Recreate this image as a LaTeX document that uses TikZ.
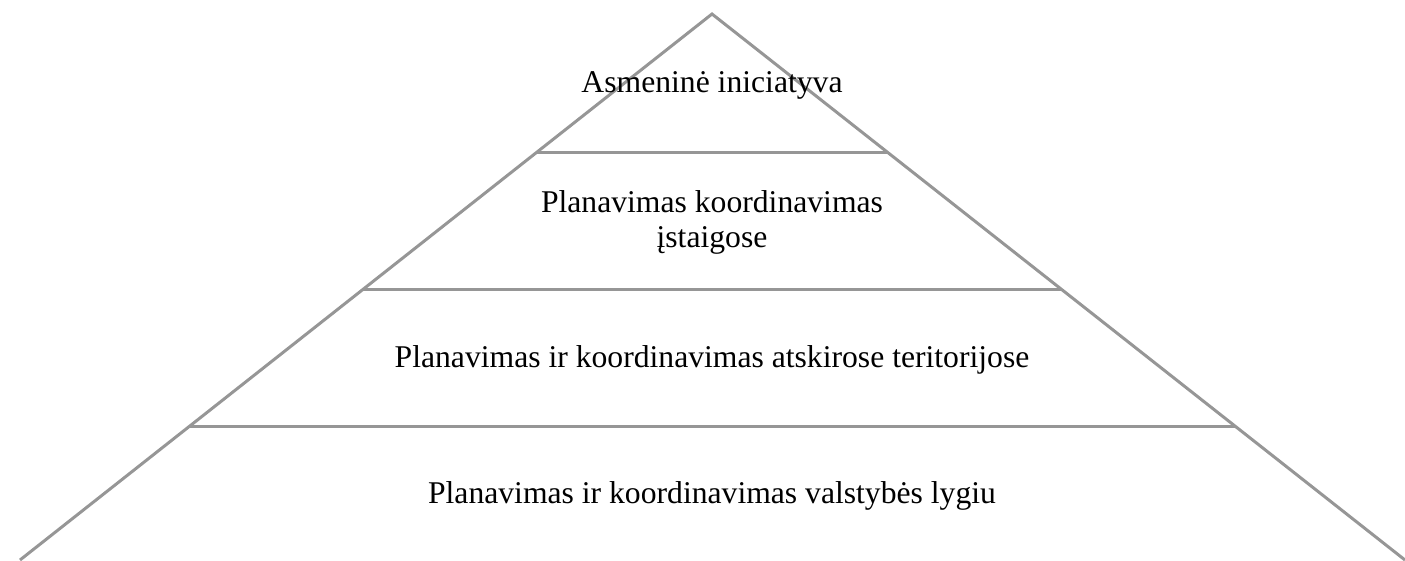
\documentclass[tikz,border=0pt]{standalone}
\usepackage{fontspec}
\setmainfont{Liberation Serif}
\usetikzlibrary{calc}
\definecolor{pyrline}{RGB}{150,150,150}
\begin{document}
\begin{tikzpicture}[x=0.01cm, y=-0.01cm, line width=0.85pt]
                \useasboundingbox (0,0) rectangle (1405,560);
                \tikzset{lvl/.style={anchor=base, font=\fontsize{9}{9.7}\selectfont, align=center, inner sep=0pt}}

                \coordinate (top) at (712,14);
                \coordinate (bl) at (20,560);
                \coordinate (br) at (1405,560);

                \draw[pyrline] (bl) -- (top) -- (br);

                \coordinate (l1) at ($(top)!138/546!(bl)$);
                \coordinate (r1) at ($(top)!138/546!(br)$);
                \coordinate (l2) at ($(top)!275/546!(bl)$);
                \coordinate (r2) at ($(top)!275/546!(br)$);
                \coordinate (l3) at ($(top)!412/546!(bl)$);
                \coordinate (r3) at ($(top)!412/546!(br)$);

                \draw[pyrline] (l1) -- (r1);
                \draw[pyrline] (l2) -- (r2);
                \draw[pyrline] (l3) -- (r3);

                \node[lvl] (t1) at (712,92) {Asmeninė iniciatyva};
                \node[lvl] (t2) at (712,247) {Planavimas koordinavimas\\įstaigose};
                \node[lvl] (t3) at (712,367) {Planavimas ir koordinavimas atskirose teritorijose};
                \node[lvl] (t4) at (712,503) {Planavimas ir koordinavimas valstybės lygiu};
            \end{tikzpicture}
\end{document}
